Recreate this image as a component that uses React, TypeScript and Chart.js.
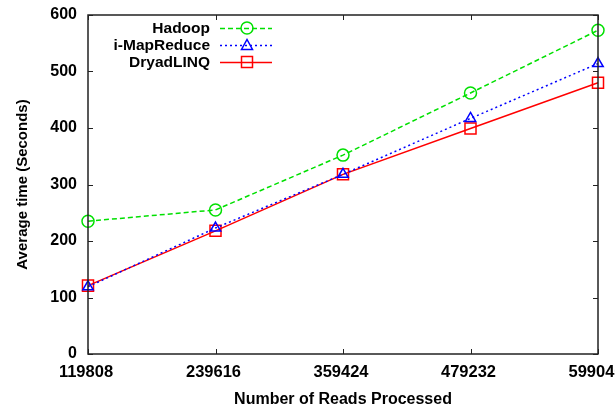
import React, { useEffect, useRef } from "react";
import { Chart, registerables } from "chart.js";

Chart.register(...registerables);

const xValues = [119808, 239616, 359424, 479232, 599040];
const hadoop = [235, 255, 352, 462, 573];
const iMapReduce = [119, 223, 318, 417, 514];
const dryadLINQ = [121, 218, 318, 399, 480];
const seriesNames = ["Hadoop", "i-MapReduce", "DryadLINQ"];
const yTicks = [0, 100, 200, 300, 400, 500, 600];

const FONT = "'Liberation Sans', Arial, sans-serif";
const GREEN = "#00e000";
const BLUE = "#0000ff";
const RED = "#ff0000";

const frameAndLegend = {
  id: "frameAndLegend",
  afterDatasetsDraw(chart: any) {
    const { ctx, chartArea } = chart;
    const { left, right, top, bottom } = chartArea;
    const xs = chart.scales.x;
    const ys = chart.scales.y;
    ctx.save();
    ctx.strokeStyle = "#222";
    ctx.lineWidth = 1.5;
    ctx.setLineDash([]);
    ctx.strokeRect(left, top, right - left, bottom - top);
    const tl = 5;
    ctx.lineWidth = 1;
    ctx.beginPath();
    for (const v of yTicks) {
      const y = Math.round(ys.getPixelForValue(v)) + 0.5;
      ctx.moveTo(left, y);
      ctx.lineTo(left + tl, y);
      ctx.moveTo(right, y);
      ctx.lineTo(right - tl, y);
    }
    for (const v of xValues) {
      const x = Math.round(xs.getPixelForValue(v)) + 0.5;
      ctx.moveTo(x, bottom);
      ctx.lineTo(x, bottom - tl);
      ctx.moveTo(x, top);
      ctx.lineTo(x, top + tl);
    }
    ctx.stroke();

    // legend
    const textRight = 210;
    const lx0 = 220;
    const lx1 = 272;
    const mx = 247;
    const rows = [28, 45, 62];
    ctx.font = `bold 15.5px ${FONT}`;
    ctx.textAlign = "right";
    ctx.textBaseline = "middle";
    chart.data.datasets.forEach((ds: any, i: number) => {
      const y = rows[i];
      ctx.fillStyle = "#000";
      ctx.fillText(seriesNames[i], textRight, y + 1);
      ctx.strokeStyle = ds.borderColor;
      ctx.lineWidth = ds.borderWidth;
      ctx.setLineDash(ds.borderDash || []);
      ctx.beginPath();
      ctx.moveTo(lx0, y + 0.5);
      ctx.lineTo(lx1, y + 0.5);
      ctx.stroke();
      ctx.setLineDash([]);
      ctx.lineWidth = 1.5;
      ctx.beginPath();
      if (ds.pointStyle === "circle") {
        ctx.arc(mx, y, 6, 0, Math.PI * 2);
      } else if (ds.pointStyle === "triangle") {
        ctx.moveTo(mx - 5.5, y + 4.5);
        ctx.lineTo(mx + 5.5, y + 4.5);
        ctx.lineTo(mx, y - 5.5);
        ctx.closePath();
      } else {
        ctx.rect(mx - 5.5, y - 5.5, 11, 11);
      }
      ctx.stroke();
    });
    ctx.restore();
  },
};

export default function App() {
  const ref = useRef<HTMLCanvasElement>(null);
  useEffect(() => {
    document.body.style.margin = "0";
    const mk = (arr: number[]) => arr.map((y, i) => ({ x: xValues[i], y }));
    const chart = new Chart(ref.current!, {
      type: "line",
      data: {
        datasets: [
          {
            label: seriesNames[0],
            data: mk(hadoop),
            borderColor: GREEN,
            backgroundColor: "rgba(0,0,0,0)",
            borderWidth: 1.5,
            borderDash: [5, 3],
            pointStyle: "circle",
            pointRadius: 6,
            pointBorderWidth: 1.5,
            clip: false as any,
          },
          {
            label: seriesNames[1],
            data: mk(iMapReduce),
            borderColor: BLUE,
            backgroundColor: "rgba(0,0,0,0)",
            borderWidth: 1.5,
            borderDash: [2, 3],
            pointStyle: "triangle",
            pointRadius: 6,
            pointBorderWidth: 1.5,
            clip: false as any,
          },
          {
            label: seriesNames[2],
            data: mk(dryadLINQ),
            borderColor: RED,
            backgroundColor: "rgba(0,0,0,0)",
            borderWidth: 1.5,
            pointStyle: "rect",
            pointRadius: 7.8,
            pointBorderWidth: 1.5,
            clip: false as any,
          },
        ],
      },
      options: {
        responsive: false,
        animation: false,
        layout: { padding: { top: 15, right: 17, left: 0, bottom: 0 } },
        plugins: { legend: { display: false }, tooltip: { enabled: false } },
        scales: {
          x: {
            type: "linear",
            min: xValues[0],
            max: xValues[xValues.length - 1],
            afterBuildTicks: (s: any) => {
              s.ticks = xValues.map((v) => ({ value: v }));
            },
            afterFit: (s: any) => {
              s.height = 57;
              s.paddingLeft = 0;
              s.paddingRight = 0;
            },
            grid: { display: false, drawTicks: false },
            border: { display: false },
            ticks: {
              color: "#000",
              font: { family: FONT, size: 16.5, weight: "bold" },
              padding: 9,
              labelOffset: -2,
              maxRotation: 0,
              autoSkip: false,
              callback: (v: any) => String(v),
            },
            title: {
              display: true,
              text: "Number of Reads Processed",
              color: "#000",
              font: { family: FONT, size: 16, weight: "bold" },
              padding: { top: 0, bottom: 2 },
            },
          },
          y: {
            min: 0,
            max: 600,
            afterBuildTicks: (s: any) => {
              s.ticks = yTicks.map((v) => ({ value: v }));
            },
            afterFit: (s: any) => {
              s.width = 88;
              s.paddingTop = 0;
              s.paddingBottom = 0;
            },
            grid: { display: false, drawTicks: false },
            border: { display: false },
            ticks: {
              color: "#000",
              font: { family: FONT, size: 16, weight: "bold" },
              padding: 11,
            },
            title: {
              display: true,
              text: "Average time (Seconds)",
              color: "#000",
              font: { family: FONT, size: 15, weight: "bold" },
              padding: { top: 14, bottom: 0 },
            },
          },
        },
      } as any,
      plugins: [frameAndLegend],
    });
    return () => chart.destroy();
  }, []);
  return (
    <div style={{ position: "absolute", left: 0, top: 0, width: 615, height: 411, background: "#fff" }}>
      <canvas ref={ref} width={615} height={411} />
    </div>
  );
}
